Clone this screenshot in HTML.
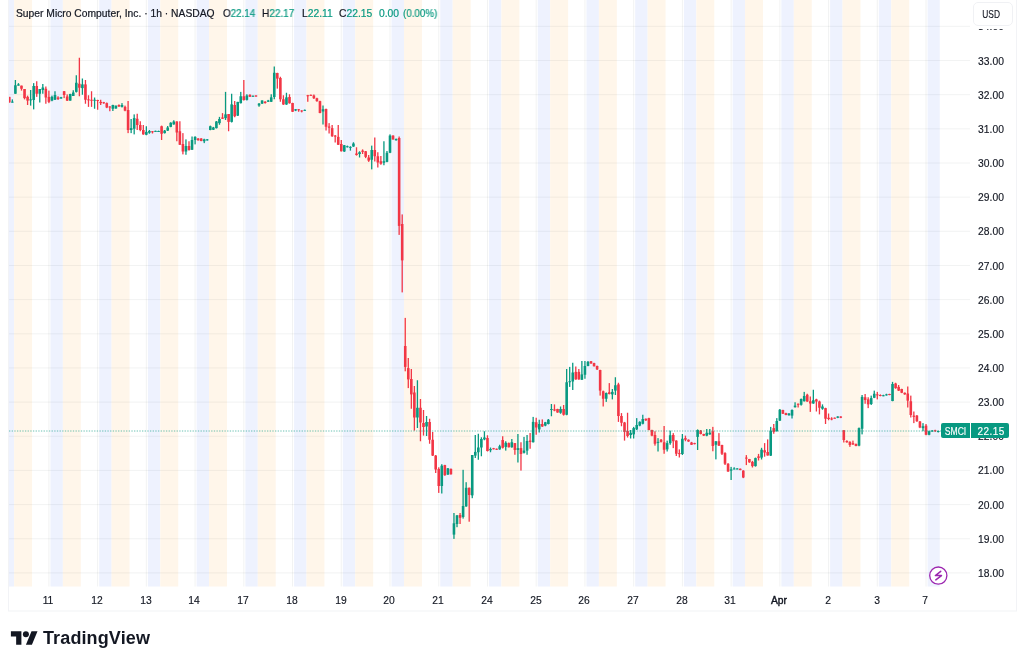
<!DOCTYPE html>
<html><head><meta charset="utf-8">
<style>
html,body{margin:0;padding:0;background:#fff;}
body{width:1024px;height:665px;position:relative;overflow:hidden;-webkit-font-smoothing:antialiased;font-family:"Liberation Sans",sans-serif;color:#131722;}
#chart{position:absolute;left:0;top:0;}
.pl{will-change:transform;position:absolute;left:967.7px;-webkit-text-stroke:0.15px #131722;width:46px;text-align:center;font-size:10.3px;line-height:14px;color:#131722;}
.tl{will-change:transform;-webkit-text-stroke:0.15px #131722;position:absolute;top:593.5px;width:40px;text-align:center;font-size:10.3px;line-height:14px;color:#131722;}
.tl.b{-webkit-text-stroke:0.4px #131722;}
.leg{will-change:transform;-webkit-text-stroke-width:0.2px;position:absolute;top:5.5px;font-size:10.3px;line-height:16px;white-space:nowrap;color:#131722;transform-origin:0 0;}
.leg .v{color:#089981;}
#usdbg{position:absolute;left:971px;top:0;width:44px;height:28.8px;background:#fff;}
#usd{will-change:transform;-webkit-text-stroke-width:0.15px;position:absolute;left:973px;top:2px;width:38px;height:22px;border:1px solid #F0F1F4;border-radius:5px;background:#fff;font-size:10.5px;line-height:22px;text-align:center;color:#131722;}
.tag{will-change:transform;-webkit-text-stroke-width:0.15px;position:absolute;top:423.3px;height:15.3px;background:#089981;color:#fff;font-size:10px;line-height:17.8px;text-align:center;}
#tv{will-change:transform;position:absolute;left:43px;top:627.8px;font-size:18px;font-weight:bold;line-height:20px;color:#131722;letter-spacing:0.12px;}
</style></head><body>
<svg id="chart" width="1024" height="665" viewBox="0 0 1024 665">
<rect x="0" y="0" width="1024" height="665" fill="#fff"/>
<rect x="9.00" y="0" width="5.12" height="586.5" fill="#EEF2FE"/>
<rect x="14.12" y="0" width="17.95" height="586.5" fill="#FFF6EA"/>
<rect x="50.45" y="0" width="12.40" height="586.5" fill="#EEF2FE"/>
<rect x="62.85" y="0" width="17.95" height="586.5" fill="#FFF6EA"/>
<rect x="99.18" y="0" width="12.40" height="586.5" fill="#EEF2FE"/>
<rect x="111.58" y="0" width="17.95" height="586.5" fill="#FFF6EA"/>
<rect x="147.91" y="0" width="12.40" height="586.5" fill="#EEF2FE"/>
<rect x="160.31" y="0" width="17.95" height="586.5" fill="#FFF6EA"/>
<rect x="196.64" y="0" width="12.40" height="586.5" fill="#EEF2FE"/>
<rect x="209.04" y="0" width="17.95" height="586.5" fill="#FFF6EA"/>
<rect x="245.37" y="0" width="12.40" height="586.5" fill="#EEF2FE"/>
<rect x="257.77" y="0" width="17.95" height="586.5" fill="#FFF6EA"/>
<rect x="294.10" y="0" width="12.40" height="586.5" fill="#EEF2FE"/>
<rect x="306.50" y="0" width="17.95" height="586.5" fill="#FFF6EA"/>
<rect x="342.83" y="0" width="12.40" height="586.5" fill="#EEF2FE"/>
<rect x="355.23" y="0" width="17.95" height="586.5" fill="#FFF6EA"/>
<rect x="391.56" y="0" width="12.40" height="586.5" fill="#EEF2FE"/>
<rect x="403.96" y="0" width="17.95" height="586.5" fill="#FFF6EA"/>
<rect x="440.29" y="0" width="12.40" height="586.5" fill="#EEF2FE"/>
<rect x="452.69" y="0" width="17.95" height="586.5" fill="#FFF6EA"/>
<rect x="489.02" y="0" width="12.40" height="586.5" fill="#EEF2FE"/>
<rect x="501.42" y="0" width="17.95" height="586.5" fill="#FFF6EA"/>
<rect x="537.75" y="0" width="12.40" height="586.5" fill="#EEF2FE"/>
<rect x="550.15" y="0" width="17.95" height="586.5" fill="#FFF6EA"/>
<rect x="586.48" y="0" width="12.40" height="586.5" fill="#EEF2FE"/>
<rect x="598.88" y="0" width="17.95" height="586.5" fill="#FFF6EA"/>
<rect x="635.21" y="0" width="12.40" height="586.5" fill="#EEF2FE"/>
<rect x="647.61" y="0" width="17.95" height="586.5" fill="#FFF6EA"/>
<rect x="683.93" y="0" width="12.40" height="586.5" fill="#EEF2FE"/>
<rect x="696.33" y="0" width="17.95" height="586.5" fill="#FFF6EA"/>
<rect x="732.66" y="0" width="12.40" height="586.5" fill="#EEF2FE"/>
<rect x="745.06" y="0" width="17.95" height="586.5" fill="#FFF6EA"/>
<rect x="781.39" y="0" width="12.40" height="586.5" fill="#EEF2FE"/>
<rect x="793.79" y="0" width="17.95" height="586.5" fill="#FFF6EA"/>
<rect x="830.12" y="0" width="12.40" height="586.5" fill="#EEF2FE"/>
<rect x="842.52" y="0" width="17.95" height="586.5" fill="#FFF6EA"/>
<rect x="878.85" y="0" width="12.40" height="586.5" fill="#EEF2FE"/>
<rect x="891.25" y="0" width="17.95" height="586.5" fill="#FFF6EA"/>
<rect x="927.58" y="0" width="12.16" height="586.5" fill="#EEF2FE"/>
<rect x="48.40" y="0" width="1" height="586.5" fill="rgba(42,46,57,0.06)"/>
<rect x="97.13" y="0" width="1" height="586.5" fill="rgba(42,46,57,0.06)"/>
<rect x="145.86" y="0" width="1" height="586.5" fill="rgba(42,46,57,0.06)"/>
<rect x="194.59" y="0" width="1" height="586.5" fill="rgba(42,46,57,0.06)"/>
<rect x="243.32" y="0" width="1" height="586.5" fill="rgba(42,46,57,0.06)"/>
<rect x="292.05" y="0" width="1" height="586.5" fill="rgba(42,46,57,0.06)"/>
<rect x="340.78" y="0" width="1" height="586.5" fill="rgba(42,46,57,0.06)"/>
<rect x="389.51" y="0" width="1" height="586.5" fill="rgba(42,46,57,0.06)"/>
<rect x="438.24" y="0" width="1" height="586.5" fill="rgba(42,46,57,0.06)"/>
<rect x="486.97" y="0" width="1" height="586.5" fill="rgba(42,46,57,0.06)"/>
<rect x="535.70" y="0" width="1" height="586.5" fill="rgba(42,46,57,0.06)"/>
<rect x="584.43" y="0" width="1" height="586.5" fill="rgba(42,46,57,0.06)"/>
<rect x="633.16" y="0" width="1" height="586.5" fill="rgba(42,46,57,0.06)"/>
<rect x="681.88" y="0" width="1" height="586.5" fill="rgba(42,46,57,0.06)"/>
<rect x="730.61" y="0" width="1" height="586.5" fill="rgba(42,46,57,0.06)"/>
<rect x="779.34" y="0" width="1" height="586.5" fill="rgba(42,46,57,0.06)"/>
<rect x="828.07" y="0" width="1" height="586.5" fill="rgba(42,46,57,0.06)"/>
<rect x="876.80" y="0" width="1" height="586.5" fill="rgba(42,46,57,0.06)"/>
<rect x="925.53" y="0" width="1" height="586.5" fill="rgba(42,46,57,0.06)"/>
<rect x="9" y="572.40" width="961" height="1" fill="rgba(42,46,57,0.06)"/>
<rect x="9" y="538.24" width="961" height="1" fill="rgba(42,46,57,0.06)"/>
<rect x="9" y="504.08" width="961" height="1" fill="rgba(42,46,57,0.06)"/>
<rect x="9" y="469.92" width="961" height="1" fill="rgba(42,46,57,0.06)"/>
<rect x="9" y="435.76" width="961" height="1" fill="rgba(42,46,57,0.06)"/>
<rect x="9" y="401.60" width="961" height="1" fill="rgba(42,46,57,0.06)"/>
<rect x="9" y="367.44" width="961" height="1" fill="rgba(42,46,57,0.06)"/>
<rect x="9" y="333.28" width="961" height="1" fill="rgba(42,46,57,0.06)"/>
<rect x="9" y="299.12" width="961" height="1" fill="rgba(42,46,57,0.06)"/>
<rect x="9" y="264.96" width="961" height="1" fill="rgba(42,46,57,0.06)"/>
<rect x="9" y="230.80" width="961" height="1" fill="rgba(42,46,57,0.06)"/>
<rect x="9" y="196.64" width="961" height="1" fill="rgba(42,46,57,0.06)"/>
<rect x="9" y="162.48" width="961" height="1" fill="rgba(42,46,57,0.06)"/>
<rect x="9" y="128.32" width="961" height="1" fill="rgba(42,46,57,0.06)"/>
<rect x="9" y="94.16" width="961" height="1" fill="rgba(42,46,57,0.06)"/>
<rect x="9" y="60.00" width="961" height="1" fill="rgba(42,46,57,0.06)"/>
<rect x="9" y="25.84" width="961" height="1" fill="rgba(42,46,57,0.06)"/>
<rect x="8.66" y="96.88" width="1.3" height="5.62" fill="#F23645"/>
<rect x="8.01" y="96.88" width="2.6" height="5.62" fill="#F23645"/>
<rect x="11.70" y="99.38" width="1.3" height="3.25" fill="#089981"/>
<rect x="11.05" y="101.62" width="2.6" height="1.00" fill="#089981"/>
<rect x="14.75" y="80.00" width="1.3" height="13.75" fill="#089981"/>
<rect x="14.10" y="85.25" width="2.6" height="8.50" fill="#089981"/>
<rect x="17.79" y="83.12" width="1.3" height="2.50" fill="#089981"/>
<rect x="17.14" y="84.38" width="2.6" height="1.25" fill="#089981"/>
<rect x="20.84" y="85.62" width="1.3" height="5.00" fill="#F23645"/>
<rect x="20.19" y="85.62" width="2.6" height="3.12" fill="#F23645"/>
<rect x="23.89" y="89.00" width="1.3" height="10.38" fill="#F23645"/>
<rect x="23.24" y="89.00" width="2.6" height="9.12" fill="#F23645"/>
<rect x="26.93" y="95.62" width="1.3" height="9.38" fill="#F23645"/>
<rect x="26.28" y="96.88" width="2.6" height="3.75" fill="#F23645"/>
<rect x="29.98" y="90.00" width="1.3" height="15.62" fill="#089981"/>
<rect x="29.33" y="99.38" width="2.6" height="1.00" fill="#089981"/>
<rect x="33.02" y="83.12" width="1.3" height="26.25" fill="#089981"/>
<rect x="32.37" y="86.00" width="2.6" height="14.00" fill="#089981"/>
<rect x="36.07" y="81.25" width="1.3" height="15.62" fill="#F23645"/>
<rect x="35.42" y="86.00" width="2.6" height="7.75" fill="#F23645"/>
<rect x="39.11" y="89.00" width="1.3" height="13.50" fill="#089981"/>
<rect x="38.46" y="89.00" width="2.6" height="4.75" fill="#089981"/>
<rect x="42.16" y="84.00" width="1.3" height="9.75" fill="#089981"/>
<rect x="41.51" y="87.50" width="2.6" height="2.50" fill="#089981"/>
<rect x="45.20" y="86.50" width="1.3" height="17.25" fill="#F23645"/>
<rect x="44.55" y="88.75" width="2.6" height="8.75" fill="#F23645"/>
<rect x="48.25" y="90.62" width="1.3" height="12.50" fill="#F23645"/>
<rect x="47.60" y="96.88" width="2.6" height="5.00" fill="#F23645"/>
<rect x="51.30" y="95.62" width="1.3" height="5.62" fill="#089981"/>
<rect x="50.65" y="96.88" width="2.6" height="3.75" fill="#089981"/>
<rect x="54.34" y="91.25" width="1.3" height="8.75" fill="#089981"/>
<rect x="53.69" y="95.00" width="2.6" height="4.75" fill="#089981"/>
<rect x="57.39" y="96.25" width="1.3" height="3.75" fill="#F23645"/>
<rect x="56.74" y="97.50" width="2.6" height="1.50" fill="#F23645"/>
<rect x="60.43" y="96.88" width="1.3" height="1.88" fill="#089981"/>
<rect x="59.78" y="97.25" width="2.6" height="1.25" fill="#089981"/>
<rect x="63.48" y="91.00" width="1.3" height="7.12" fill="#F23645"/>
<rect x="62.83" y="91.25" width="2.6" height="3.75" fill="#F23645"/>
<rect x="66.52" y="94.38" width="1.3" height="6.62" fill="#F23645"/>
<rect x="65.87" y="96.50" width="2.6" height="4.12" fill="#F23645"/>
<rect x="69.57" y="93.75" width="1.3" height="6.88" fill="#089981"/>
<rect x="68.92" y="94.00" width="2.6" height="6.62" fill="#089981"/>
<rect x="72.61" y="90.25" width="1.3" height="5.75" fill="#089981"/>
<rect x="71.96" y="92.50" width="2.6" height="3.50" fill="#089981"/>
<rect x="75.66" y="75.25" width="1.3" height="17.25" fill="#089981"/>
<rect x="75.01" y="82.75" width="2.6" height="9.12" fill="#089981"/>
<rect x="78.71" y="57.75" width="1.3" height="38.50" fill="#F23645"/>
<rect x="78.06" y="83.75" width="2.6" height="4.00" fill="#F23645"/>
<rect x="81.75" y="78.50" width="1.3" height="16.25" fill="#089981"/>
<rect x="81.10" y="84.38" width="2.6" height="3.75" fill="#089981"/>
<rect x="84.80" y="80.00" width="1.3" height="23.75" fill="#F23645"/>
<rect x="84.15" y="84.38" width="2.6" height="15.38" fill="#F23645"/>
<rect x="87.84" y="95.25" width="1.3" height="11.62" fill="#F23645"/>
<rect x="87.19" y="99.38" width="2.6" height="1.00" fill="#F23645"/>
<rect x="90.89" y="91.25" width="1.3" height="15.62" fill="#F23645"/>
<rect x="90.24" y="99.75" width="2.6" height="1.00" fill="#F23645"/>
<rect x="93.93" y="97.50" width="1.3" height="11.25" fill="#089981"/>
<rect x="93.28" y="99.75" width="2.6" height="1.00" fill="#089981"/>
<rect x="96.98" y="99.75" width="1.3" height="10.00" fill="#F23645"/>
<rect x="96.33" y="100.00" width="2.6" height="1.00" fill="#F23645"/>
<rect x="100.03" y="99.75" width="1.3" height="5.25" fill="#F23645"/>
<rect x="99.38" y="101.88" width="2.6" height="1.25" fill="#F23645"/>
<rect x="103.07" y="101.88" width="1.3" height="1.88" fill="#F23645"/>
<rect x="102.42" y="102.25" width="2.6" height="1.00" fill="#F23645"/>
<rect x="106.12" y="102.50" width="1.3" height="5.62" fill="#F23645"/>
<rect x="105.47" y="103.12" width="2.6" height="4.38" fill="#F23645"/>
<rect x="109.16" y="106.25" width="1.3" height="5.00" fill="#F23645"/>
<rect x="108.51" y="106.50" width="2.6" height="1.00" fill="#F23645"/>
<rect x="112.21" y="104.75" width="1.3" height="6.25" fill="#089981"/>
<rect x="111.56" y="105.00" width="2.6" height="3.75" fill="#089981"/>
<rect x="115.25" y="105.62" width="1.3" height="3.12" fill="#089981"/>
<rect x="114.60" y="105.62" width="2.6" height="2.88" fill="#089981"/>
<rect x="118.30" y="104.38" width="1.3" height="2.50" fill="#F23645"/>
<rect x="117.65" y="105.00" width="2.6" height="1.50" fill="#F23645"/>
<rect x="121.34" y="103.12" width="1.3" height="4.38" fill="#089981"/>
<rect x="120.69" y="105.00" width="2.6" height="1.88" fill="#089981"/>
<rect x="124.39" y="105.62" width="1.3" height="5.62" fill="#F23645"/>
<rect x="123.74" y="106.88" width="2.6" height="3.75" fill="#F23645"/>
<rect x="127.44" y="101.00" width="1.3" height="32.12" fill="#F23645"/>
<rect x="126.79" y="110.00" width="2.6" height="20.00" fill="#F23645"/>
<rect x="130.48" y="119.00" width="1.3" height="14.12" fill="#089981"/>
<rect x="129.83" y="128.12" width="2.6" height="1.88" fill="#089981"/>
<rect x="133.53" y="114.38" width="1.3" height="20.00" fill="#089981"/>
<rect x="132.88" y="118.12" width="2.6" height="10.62" fill="#089981"/>
<rect x="136.57" y="113.75" width="1.3" height="16.25" fill="#F23645"/>
<rect x="135.92" y="118.75" width="2.6" height="6.25" fill="#F23645"/>
<rect x="139.62" y="121.25" width="1.3" height="10.00" fill="#F23645"/>
<rect x="138.97" y="125.00" width="2.6" height="5.00" fill="#F23645"/>
<rect x="142.66" y="125.00" width="1.3" height="9.75" fill="#F23645"/>
<rect x="142.01" y="130.00" width="2.6" height="4.38" fill="#F23645"/>
<rect x="145.71" y="126.25" width="1.3" height="9.00" fill="#089981"/>
<rect x="145.06" y="131.88" width="2.6" height="2.88" fill="#089981"/>
<rect x="148.75" y="130.00" width="1.3" height="3.75" fill="#089981"/>
<rect x="148.10" y="131.00" width="2.6" height="1.75" fill="#089981"/>
<rect x="151.80" y="131.00" width="1.3" height="2.50" fill="#F23645"/>
<rect x="151.15" y="131.25" width="2.6" height="1.00" fill="#F23645"/>
<rect x="154.85" y="130.62" width="1.3" height="1.25" fill="#089981"/>
<rect x="154.20" y="130.88" width="2.6" height="1.00" fill="#089981"/>
<rect x="157.89" y="130.62" width="1.3" height="1.25" fill="#089981"/>
<rect x="157.24" y="131.00" width="2.6" height="1.00" fill="#089981"/>
<rect x="160.94" y="125.62" width="1.3" height="14.38" fill="#F23645"/>
<rect x="160.29" y="126.25" width="2.6" height="7.50" fill="#F23645"/>
<rect x="163.98" y="130.00" width="1.3" height="3.50" fill="#089981"/>
<rect x="163.33" y="130.62" width="2.6" height="2.50" fill="#089981"/>
<rect x="167.03" y="126.00" width="1.3" height="5.00" fill="#089981"/>
<rect x="166.38" y="127.50" width="2.6" height="3.12" fill="#089981"/>
<rect x="170.07" y="122.25" width="1.3" height="5.00" fill="#089981"/>
<rect x="169.42" y="122.75" width="2.6" height="4.12" fill="#089981"/>
<rect x="173.12" y="120.25" width="1.3" height="4.50" fill="#089981"/>
<rect x="172.47" y="121.50" width="2.6" height="2.88" fill="#089981"/>
<rect x="176.17" y="121.25" width="1.3" height="20.00" fill="#F23645"/>
<rect x="175.52" y="121.50" width="2.6" height="11.00" fill="#F23645"/>
<rect x="179.21" y="121.25" width="1.3" height="23.75" fill="#F23645"/>
<rect x="178.56" y="131.25" width="2.6" height="13.50" fill="#F23645"/>
<rect x="182.26" y="133.12" width="1.3" height="21.25" fill="#F23645"/>
<rect x="181.61" y="144.00" width="2.6" height="7.50" fill="#F23645"/>
<rect x="185.30" y="139.38" width="1.3" height="15.38" fill="#089981"/>
<rect x="184.65" y="146.00" width="2.6" height="5.50" fill="#089981"/>
<rect x="188.35" y="141.25" width="1.3" height="9.38" fill="#F23645"/>
<rect x="187.70" y="146.00" width="2.6" height="4.00" fill="#F23645"/>
<rect x="191.39" y="136.50" width="1.3" height="13.50" fill="#089981"/>
<rect x="190.74" y="140.00" width="2.6" height="9.75" fill="#089981"/>
<rect x="194.44" y="136.25" width="1.3" height="8.12" fill="#089981"/>
<rect x="193.79" y="136.88" width="2.6" height="3.12" fill="#089981"/>
<rect x="197.48" y="138.12" width="1.3" height="2.50" fill="#F23645"/>
<rect x="196.83" y="138.50" width="2.6" height="1.75" fill="#F23645"/>
<rect x="200.53" y="138.12" width="1.3" height="3.12" fill="#F23645"/>
<rect x="199.88" y="138.50" width="2.6" height="2.50" fill="#F23645"/>
<rect x="203.58" y="138.75" width="1.3" height="4.38" fill="#089981"/>
<rect x="202.93" y="139.38" width="2.6" height="1.88" fill="#089981"/>
<rect x="206.62" y="139.00" width="1.3" height="1.62" fill="#089981"/>
<rect x="205.97" y="139.38" width="2.6" height="1.00" fill="#089981"/>
<rect x="209.67" y="125.62" width="1.3" height="4.62" fill="#089981"/>
<rect x="209.02" y="126.25" width="2.6" height="3.75" fill="#089981"/>
<rect x="212.71" y="126.88" width="1.3" height="3.12" fill="#089981"/>
<rect x="212.06" y="127.50" width="2.6" height="2.25" fill="#089981"/>
<rect x="215.76" y="121.00" width="1.3" height="7.50" fill="#089981"/>
<rect x="215.11" y="121.50" width="2.6" height="6.62" fill="#089981"/>
<rect x="218.80" y="116.88" width="1.3" height="7.88" fill="#089981"/>
<rect x="218.15" y="119.00" width="2.6" height="4.12" fill="#089981"/>
<rect x="221.85" y="113.12" width="1.3" height="5.88" fill="#F23645"/>
<rect x="221.20" y="117.50" width="2.6" height="1.25" fill="#F23645"/>
<rect x="224.89" y="91.88" width="1.3" height="28.12" fill="#089981"/>
<rect x="224.24" y="114.38" width="2.6" height="3.75" fill="#089981"/>
<rect x="227.94" y="114.00" width="1.3" height="17.25" fill="#F23645"/>
<rect x="227.29" y="114.00" width="2.6" height="7.88" fill="#F23645"/>
<rect x="230.99" y="93.75" width="1.3" height="28.75" fill="#089981"/>
<rect x="230.34" y="104.38" width="2.6" height="17.50" fill="#089981"/>
<rect x="234.03" y="101.00" width="1.3" height="16.25" fill="#F23645"/>
<rect x="233.38" y="105.00" width="2.6" height="11.25" fill="#F23645"/>
<rect x="237.08" y="101.88" width="1.3" height="14.12" fill="#089981"/>
<rect x="236.43" y="101.88" width="2.6" height="13.75" fill="#089981"/>
<rect x="240.12" y="91.88" width="1.3" height="11.62" fill="#089981"/>
<rect x="239.47" y="96.25" width="2.6" height="6.88" fill="#089981"/>
<rect x="243.17" y="80.00" width="1.3" height="20.62" fill="#F23645"/>
<rect x="242.52" y="96.25" width="2.6" height="3.75" fill="#F23645"/>
<rect x="246.21" y="94.25" width="1.3" height="6.25" fill="#089981"/>
<rect x="245.56" y="95.50" width="2.6" height="4.38" fill="#089981"/>
<rect x="249.26" y="94.25" width="1.3" height="2.75" fill="#F23645"/>
<rect x="248.61" y="94.88" width="2.6" height="1.88" fill="#F23645"/>
<rect x="252.31" y="95.50" width="1.3" height="1.25" fill="#089981"/>
<rect x="251.66" y="95.75" width="2.6" height="1.00" fill="#089981"/>
<rect x="255.35" y="95.25" width="1.3" height="1.50" fill="#F23645"/>
<rect x="254.70" y="95.50" width="2.6" height="1.00" fill="#F23645"/>
<rect x="258.40" y="103.00" width="1.3" height="3.75" fill="#089981"/>
<rect x="257.75" y="103.62" width="2.6" height="1.88" fill="#089981"/>
<rect x="261.44" y="100.25" width="1.3" height="3.75" fill="#089981"/>
<rect x="260.79" y="100.50" width="2.6" height="3.12" fill="#089981"/>
<rect x="264.49" y="101.12" width="1.3" height="2.50" fill="#F23645"/>
<rect x="263.84" y="101.75" width="2.6" height="1.25" fill="#F23645"/>
<rect x="267.53" y="99.88" width="1.3" height="2.12" fill="#089981"/>
<rect x="266.88" y="100.50" width="2.6" height="1.25" fill="#089981"/>
<rect x="270.58" y="94.25" width="1.3" height="7.75" fill="#089981"/>
<rect x="269.93" y="97.38" width="2.6" height="4.38" fill="#089981"/>
<rect x="273.62" y="66.50" width="1.3" height="32.75" fill="#089981"/>
<rect x="272.97" y="72.75" width="2.6" height="24.25" fill="#089981"/>
<rect x="276.67" y="72.75" width="1.3" height="15.88" fill="#F23645"/>
<rect x="276.02" y="73.00" width="2.6" height="5.62" fill="#F23645"/>
<rect x="279.72" y="76.75" width="1.3" height="25.00" fill="#F23645"/>
<rect x="279.07" y="78.00" width="2.6" height="21.25" fill="#F23645"/>
<rect x="282.76" y="95.25" width="1.3" height="9.62" fill="#F23645"/>
<rect x="282.11" y="99.25" width="2.6" height="5.25" fill="#F23645"/>
<rect x="285.81" y="92.75" width="1.3" height="12.12" fill="#089981"/>
<rect x="285.16" y="97.38" width="2.6" height="7.12" fill="#089981"/>
<rect x="288.85" y="94.25" width="1.3" height="9.38" fill="#F23645"/>
<rect x="288.20" y="97.00" width="2.6" height="6.25" fill="#F23645"/>
<rect x="291.90" y="102.75" width="1.3" height="9.25" fill="#F23645"/>
<rect x="291.25" y="103.00" width="2.6" height="8.75" fill="#F23645"/>
<rect x="294.94" y="109.00" width="1.3" height="2.12" fill="#089981"/>
<rect x="294.29" y="109.25" width="2.6" height="1.25" fill="#089981"/>
<rect x="297.99" y="109.00" width="1.3" height="2.75" fill="#F23645"/>
<rect x="297.34" y="109.25" width="2.6" height="1.00" fill="#F23645"/>
<rect x="301.03" y="110.25" width="1.3" height="2.12" fill="#F23645"/>
<rect x="300.38" y="110.50" width="2.6" height="1.00" fill="#F23645"/>
<rect x="304.08" y="109.50" width="1.3" height="1.25" fill="#089981"/>
<rect x="303.43" y="109.88" width="2.6" height="1.00" fill="#089981"/>
<rect x="307.13" y="94.88" width="1.3" height="6.88" fill="#F23645"/>
<rect x="306.48" y="95.25" width="2.6" height="1.00" fill="#F23645"/>
<rect x="310.17" y="94.50" width="1.3" height="1.25" fill="#F23645"/>
<rect x="309.52" y="94.88" width="2.6" height="1.00" fill="#F23645"/>
<rect x="313.22" y="94.50" width="1.3" height="4.50" fill="#F23645"/>
<rect x="312.57" y="95.50" width="2.6" height="2.75" fill="#F23645"/>
<rect x="316.26" y="97.75" width="1.3" height="4.00" fill="#F23645"/>
<rect x="315.61" y="98.25" width="2.6" height="2.88" fill="#F23645"/>
<rect x="319.31" y="100.75" width="1.3" height="12.50" fill="#F23645"/>
<rect x="318.66" y="101.12" width="2.6" height="11.88" fill="#F23645"/>
<rect x="322.35" y="105.50" width="1.3" height="19.00" fill="#089981"/>
<rect x="321.70" y="109.25" width="2.6" height="2.25" fill="#089981"/>
<rect x="325.40" y="108.62" width="1.3" height="21.88" fill="#F23645"/>
<rect x="324.75" y="109.00" width="2.6" height="17.75" fill="#F23645"/>
<rect x="328.45" y="123.12" width="1.3" height="10.38" fill="#F23645"/>
<rect x="327.80" y="126.50" width="2.6" height="1.25" fill="#F23645"/>
<rect x="331.49" y="125.00" width="1.3" height="11.88" fill="#F23645"/>
<rect x="330.84" y="128.12" width="2.6" height="8.12" fill="#F23645"/>
<rect x="334.54" y="135.00" width="1.3" height="7.50" fill="#F23645"/>
<rect x="333.89" y="135.62" width="2.6" height="1.00" fill="#F23645"/>
<rect x="337.58" y="125.00" width="1.3" height="20.00" fill="#F23645"/>
<rect x="336.93" y="136.88" width="2.6" height="7.88" fill="#F23645"/>
<rect x="340.63" y="140.00" width="1.3" height="11.50" fill="#F23645"/>
<rect x="339.98" y="144.00" width="2.6" height="7.25" fill="#F23645"/>
<rect x="343.67" y="145.00" width="1.3" height="6.88" fill="#089981"/>
<rect x="343.02" y="145.25" width="2.6" height="6.25" fill="#089981"/>
<rect x="346.72" y="145.62" width="1.3" height="1.88" fill="#089981"/>
<rect x="346.07" y="146.25" width="2.6" height="1.00" fill="#089981"/>
<rect x="349.76" y="146.25" width="1.3" height="4.38" fill="#089981"/>
<rect x="349.11" y="146.88" width="2.6" height="1.00" fill="#089981"/>
<rect x="352.81" y="142.25" width="1.3" height="4.62" fill="#089981"/>
<rect x="352.16" y="143.50" width="2.6" height="3.00" fill="#089981"/>
<rect x="355.86" y="147.25" width="1.3" height="8.38" fill="#F23645"/>
<rect x="355.21" y="153.50" width="2.6" height="1.50" fill="#F23645"/>
<rect x="358.90" y="151.25" width="1.3" height="6.25" fill="#089981"/>
<rect x="358.25" y="152.25" width="2.6" height="1.75" fill="#089981"/>
<rect x="361.95" y="149.38" width="1.3" height="4.62" fill="#F23645"/>
<rect x="361.30" y="150.62" width="2.6" height="1.25" fill="#F23645"/>
<rect x="364.99" y="151.00" width="1.3" height="7.12" fill="#F23645"/>
<rect x="364.34" y="151.25" width="2.6" height="5.62" fill="#F23645"/>
<rect x="368.04" y="155.00" width="1.3" height="6.88" fill="#F23645"/>
<rect x="367.39" y="157.50" width="2.6" height="3.12" fill="#F23645"/>
<rect x="371.08" y="145.62" width="1.3" height="23.75" fill="#089981"/>
<rect x="370.43" y="150.00" width="2.6" height="9.75" fill="#089981"/>
<rect x="374.13" y="137.50" width="1.3" height="24.00" fill="#F23645"/>
<rect x="373.48" y="150.00" width="2.6" height="6.25" fill="#F23645"/>
<rect x="377.17" y="152.25" width="1.3" height="15.25" fill="#F23645"/>
<rect x="376.52" y="156.25" width="2.6" height="6.25" fill="#F23645"/>
<rect x="380.22" y="156.00" width="1.3" height="8.75" fill="#F23645"/>
<rect x="379.57" y="161.25" width="2.6" height="2.50" fill="#F23645"/>
<rect x="383.27" y="141.25" width="1.3" height="24.00" fill="#089981"/>
<rect x="382.62" y="161.25" width="2.6" height="1.50" fill="#089981"/>
<rect x="386.31" y="151.00" width="1.3" height="11.25" fill="#089981"/>
<rect x="385.66" y="152.75" width="2.6" height="9.12" fill="#089981"/>
<rect x="389.36" y="134.38" width="1.3" height="18.75" fill="#089981"/>
<rect x="388.71" y="135.62" width="2.6" height="17.12" fill="#089981"/>
<rect x="392.40" y="135.25" width="1.3" height="4.50" fill="#F23645"/>
<rect x="391.75" y="135.62" width="2.6" height="3.75" fill="#F23645"/>
<rect x="395.45" y="138.50" width="1.3" height="2.12" fill="#089981"/>
<rect x="394.80" y="139.00" width="2.6" height="1.25" fill="#089981"/>
<rect x="398.49" y="136.50" width="1.3" height="98.40" fill="#F23645"/>
<rect x="397.84" y="138.00" width="2.6" height="87.90" fill="#F23645"/>
<rect x="401.54" y="214.40" width="1.3" height="78.00" fill="#F23645"/>
<rect x="400.89" y="224.00" width="2.6" height="36.40" fill="#F23645"/>
<rect x="404.59" y="317.90" width="1.3" height="53.40" fill="#F23645"/>
<rect x="403.94" y="346.00" width="2.6" height="20.90" fill="#F23645"/>
<rect x="407.63" y="358.00" width="1.3" height="30.10" fill="#F23645"/>
<rect x="406.98" y="368.10" width="2.6" height="11.30" fill="#F23645"/>
<rect x="410.68" y="369.00" width="1.3" height="39.75" fill="#F23645"/>
<rect x="410.03" y="379.00" width="2.6" height="15.40" fill="#F23645"/>
<rect x="413.72" y="386.00" width="1.3" height="44.60" fill="#F23645"/>
<rect x="413.07" y="392.50" width="2.6" height="25.00" fill="#F23645"/>
<rect x="416.77" y="380.25" width="1.3" height="47.75" fill="#089981"/>
<rect x="416.12" y="407.75" width="2.6" height="9.75" fill="#089981"/>
<rect x="419.81" y="399.00" width="1.3" height="42.25" fill="#F23645"/>
<rect x="419.16" y="407.75" width="2.6" height="14.75" fill="#F23645"/>
<rect x="422.86" y="410.00" width="1.3" height="25.60" fill="#F23645"/>
<rect x="422.21" y="423.00" width="2.6" height="4.00" fill="#F23645"/>
<rect x="425.90" y="416.00" width="1.3" height="20.00" fill="#089981"/>
<rect x="425.25" y="422.00" width="2.6" height="4.50" fill="#089981"/>
<rect x="428.95" y="418.75" width="1.3" height="25.00" fill="#F23645"/>
<rect x="428.30" y="422.00" width="2.6" height="17.75" fill="#F23645"/>
<rect x="432.00" y="432.00" width="1.3" height="24.00" fill="#F23645"/>
<rect x="431.35" y="439.75" width="2.6" height="15.85" fill="#F23645"/>
<rect x="435.04" y="455.00" width="1.3" height="18.00" fill="#F23645"/>
<rect x="434.39" y="455.60" width="2.6" height="13.90" fill="#F23645"/>
<rect x="438.09" y="467.30" width="1.3" height="25.60" fill="#F23645"/>
<rect x="437.44" y="468.90" width="2.6" height="17.10" fill="#F23645"/>
<rect x="441.13" y="464.20" width="1.3" height="29.30" fill="#089981"/>
<rect x="440.48" y="465.70" width="2.6" height="20.30" fill="#089981"/>
<rect x="444.18" y="464.80" width="1.3" height="11.00" fill="#F23645"/>
<rect x="443.53" y="465.10" width="2.6" height="10.10" fill="#F23645"/>
<rect x="447.22" y="468.00" width="1.3" height="6.90" fill="#089981"/>
<rect x="446.57" y="468.30" width="2.6" height="6.30" fill="#089981"/>
<rect x="450.27" y="468.50" width="1.3" height="6.10" fill="#F23645"/>
<rect x="449.62" y="468.90" width="2.6" height="5.40" fill="#F23645"/>
<rect x="453.31" y="513.00" width="1.3" height="25.90" fill="#089981"/>
<rect x="452.66" y="523.30" width="2.6" height="11.30" fill="#089981"/>
<rect x="456.36" y="515.00" width="1.3" height="12.20" fill="#089981"/>
<rect x="455.71" y="515.40" width="2.6" height="8.60" fill="#089981"/>
<rect x="459.41" y="513.00" width="1.3" height="11.00" fill="#F23645"/>
<rect x="458.76" y="515.00" width="2.6" height="2.80" fill="#F23645"/>
<rect x="462.45" y="469.80" width="1.3" height="48.80" fill="#089981"/>
<rect x="461.80" y="506.00" width="2.6" height="11.00" fill="#089981"/>
<rect x="465.50" y="482.20" width="1.3" height="24.60" fill="#089981"/>
<rect x="464.85" y="487.80" width="2.6" height="18.60" fill="#089981"/>
<rect x="468.54" y="487.50" width="1.3" height="34.20" fill="#F23645"/>
<rect x="467.89" y="487.80" width="2.6" height="7.20" fill="#F23645"/>
<rect x="471.59" y="455.00" width="1.3" height="43.20" fill="#089981"/>
<rect x="470.94" y="455.00" width="2.6" height="40.40" fill="#089981"/>
<rect x="474.63" y="435.00" width="1.3" height="23.00" fill="#089981"/>
<rect x="473.98" y="451.90" width="2.6" height="3.70" fill="#089981"/>
<rect x="477.68" y="433.75" width="1.3" height="26.00" fill="#089981"/>
<rect x="477.03" y="447.50" width="2.6" height="4.75" fill="#089981"/>
<rect x="480.73" y="437.25" width="1.3" height="19.00" fill="#089981"/>
<rect x="480.08" y="439.00" width="2.6" height="8.50" fill="#089981"/>
<rect x="483.77" y="431.25" width="1.3" height="9.00" fill="#089981"/>
<rect x="483.12" y="437.50" width="2.6" height="1.90" fill="#089981"/>
<rect x="486.82" y="435.25" width="1.3" height="16.25" fill="#F23645"/>
<rect x="486.17" y="438.00" width="2.6" height="13.00" fill="#F23645"/>
<rect x="489.86" y="447.50" width="1.3" height="4.75" fill="#089981"/>
<rect x="489.21" y="449.00" width="2.6" height="1.25" fill="#089981"/>
<rect x="492.91" y="447.90" width="1.3" height="1.50" fill="#F23645"/>
<rect x="492.26" y="448.25" width="2.6" height="1.00" fill="#F23645"/>
<rect x="495.95" y="448.50" width="1.3" height="1.50" fill="#F23645"/>
<rect x="495.30" y="448.75" width="2.6" height="1.00" fill="#F23645"/>
<rect x="499.00" y="444.75" width="1.3" height="5.00" fill="#089981"/>
<rect x="498.35" y="446.25" width="2.6" height="3.15" fill="#089981"/>
<rect x="502.04" y="436.25" width="1.3" height="12.25" fill="#F23645"/>
<rect x="501.39" y="440.00" width="2.6" height="7.75" fill="#F23645"/>
<rect x="505.09" y="441.25" width="1.3" height="9.35" fill="#089981"/>
<rect x="504.44" y="442.75" width="2.6" height="4.15" fill="#089981"/>
<rect x="508.14" y="442.50" width="1.3" height="5.00" fill="#F23645"/>
<rect x="507.49" y="443.10" width="2.6" height="4.15" fill="#F23645"/>
<rect x="511.18" y="439.00" width="1.3" height="8.75" fill="#089981"/>
<rect x="510.53" y="442.25" width="2.6" height="5.00" fill="#089981"/>
<rect x="514.23" y="443.10" width="1.3" height="11.65" fill="#F23645"/>
<rect x="513.58" y="443.10" width="2.6" height="6.90" fill="#F23645"/>
<rect x="517.27" y="434.00" width="1.3" height="28.50" fill="#089981"/>
<rect x="516.62" y="448.10" width="2.6" height="1.90" fill="#089981"/>
<rect x="520.32" y="442.25" width="1.3" height="28.35" fill="#F23645"/>
<rect x="519.67" y="448.10" width="2.6" height="5.90" fill="#F23645"/>
<rect x="523.36" y="436.90" width="1.3" height="16.60" fill="#089981"/>
<rect x="522.71" y="450.60" width="2.6" height="2.15" fill="#089981"/>
<rect x="526.41" y="435.00" width="1.3" height="19.75" fill="#089981"/>
<rect x="525.76" y="441.00" width="2.6" height="9.60" fill="#089981"/>
<rect x="529.45" y="433.00" width="1.3" height="15.75" fill="#F23645"/>
<rect x="528.80" y="440.60" width="2.6" height="1.30" fill="#F23645"/>
<rect x="532.50" y="416.90" width="1.3" height="25.60" fill="#089981"/>
<rect x="531.85" y="421.90" width="2.6" height="20.35" fill="#089981"/>
<rect x="535.55" y="417.75" width="1.3" height="17.00" fill="#F23645"/>
<rect x="534.90" y="422.25" width="2.6" height="5.25" fill="#F23645"/>
<rect x="538.59" y="419.75" width="1.3" height="12.75" fill="#089981"/>
<rect x="537.94" y="424.00" width="2.6" height="5.40" fill="#089981"/>
<rect x="541.64" y="419.40" width="1.3" height="7.50" fill="#F23645"/>
<rect x="540.99" y="424.00" width="2.6" height="2.50" fill="#F23645"/>
<rect x="544.68" y="421.90" width="1.3" height="4.35" fill="#089981"/>
<rect x="544.03" y="422.25" width="2.6" height="3.35" fill="#089981"/>
<rect x="547.73" y="419.00" width="1.3" height="5.40" fill="#089981"/>
<rect x="547.08" y="419.75" width="2.6" height="4.25" fill="#089981"/>
<rect x="550.77" y="404.00" width="1.3" height="12.25" fill="#089981"/>
<rect x="550.12" y="409.00" width="2.6" height="1.00" fill="#089981"/>
<rect x="553.82" y="404.40" width="1.3" height="6.85" fill="#F23645"/>
<rect x="553.17" y="409.40" width="2.6" height="1.20" fill="#F23645"/>
<rect x="556.87" y="408.75" width="1.3" height="4.00" fill="#F23645"/>
<rect x="556.22" y="409.00" width="2.6" height="3.50" fill="#F23645"/>
<rect x="559.91" y="406.50" width="1.3" height="7.25" fill="#089981"/>
<rect x="559.26" y="409.00" width="2.6" height="3.75" fill="#089981"/>
<rect x="562.96" y="405.00" width="1.3" height="10.60" fill="#F23645"/>
<rect x="562.31" y="409.00" width="2.6" height="5.75" fill="#F23645"/>
<rect x="566.00" y="369.00" width="1.3" height="46.25" fill="#089981"/>
<rect x="565.35" y="382.25" width="2.6" height="32.50" fill="#089981"/>
<rect x="569.05" y="366.90" width="1.3" height="20.00" fill="#089981"/>
<rect x="568.40" y="381.25" width="2.6" height="1.00" fill="#089981"/>
<rect x="572.09" y="362.75" width="1.3" height="27.25" fill="#089981"/>
<rect x="571.44" y="372.50" width="2.6" height="9.00" fill="#089981"/>
<rect x="575.14" y="366.50" width="1.3" height="13.25" fill="#F23645"/>
<rect x="574.49" y="371.90" width="2.6" height="7.50" fill="#F23645"/>
<rect x="578.18" y="369.00" width="1.3" height="10.75" fill="#F23645"/>
<rect x="577.53" y="371.90" width="2.6" height="7.50" fill="#F23645"/>
<rect x="581.23" y="361.00" width="1.3" height="19.00" fill="#089981"/>
<rect x="580.58" y="374.40" width="2.6" height="5.35" fill="#089981"/>
<rect x="584.28" y="361.00" width="1.3" height="17.75" fill="#089981"/>
<rect x="583.63" y="366.00" width="2.6" height="8.75" fill="#089981"/>
<rect x="587.32" y="361.00" width="1.3" height="5.25" fill="#089981"/>
<rect x="586.67" y="361.90" width="2.6" height="4.10" fill="#089981"/>
<rect x="590.37" y="361.00" width="1.3" height="2.75" fill="#F23645"/>
<rect x="589.72" y="361.25" width="2.6" height="2.25" fill="#F23645"/>
<rect x="593.41" y="362.75" width="1.3" height="3.75" fill="#F23645"/>
<rect x="592.76" y="363.10" width="2.6" height="3.15" fill="#F23645"/>
<rect x="596.46" y="365.60" width="1.3" height="4.40" fill="#F23645"/>
<rect x="595.81" y="366.00" width="2.6" height="3.40" fill="#F23645"/>
<rect x="599.50" y="369.75" width="1.3" height="25.85" fill="#F23645"/>
<rect x="598.85" y="370.00" width="2.6" height="20.60" fill="#F23645"/>
<rect x="602.55" y="390.60" width="1.3" height="15.90" fill="#F23645"/>
<rect x="601.90" y="391.25" width="2.6" height="7.50" fill="#F23645"/>
<rect x="605.59" y="392.50" width="1.3" height="9.40" fill="#089981"/>
<rect x="604.94" y="393.00" width="2.6" height="5.75" fill="#089981"/>
<rect x="608.64" y="383.10" width="1.3" height="11.30" fill="#F23645"/>
<rect x="607.99" y="392.25" width="2.6" height="1.75" fill="#F23645"/>
<rect x="611.69" y="389.00" width="1.3" height="10.40" fill="#089981"/>
<rect x="611.04" y="391.90" width="2.6" height="2.50" fill="#089981"/>
<rect x="614.73" y="377.25" width="1.3" height="17.75" fill="#089981"/>
<rect x="614.08" y="385.25" width="2.6" height="5.35" fill="#089981"/>
<rect x="617.78" y="382.75" width="1.3" height="39.15" fill="#F23645"/>
<rect x="617.13" y="384.40" width="2.6" height="31.60" fill="#F23645"/>
<rect x="620.82" y="413.10" width="1.3" height="13.15" fill="#F23645"/>
<rect x="620.17" y="416.00" width="2.6" height="6.75" fill="#F23645"/>
<rect x="623.87" y="421.90" width="1.3" height="18.70" fill="#F23645"/>
<rect x="623.22" y="422.50" width="2.6" height="9.40" fill="#F23645"/>
<rect x="626.91" y="412.75" width="1.3" height="24.75" fill="#F23645"/>
<rect x="626.26" y="431.00" width="2.6" height="5.00" fill="#F23645"/>
<rect x="629.96" y="430.00" width="1.3" height="8.50" fill="#089981"/>
<rect x="629.31" y="432.75" width="2.6" height="2.25" fill="#089981"/>
<rect x="633.01" y="426.88" width="1.3" height="11.62" fill="#089981"/>
<rect x="632.36" y="428.12" width="2.6" height="6.25" fill="#089981"/>
<rect x="636.05" y="418.12" width="1.3" height="11.88" fill="#089981"/>
<rect x="635.40" y="425.00" width="2.6" height="4.38" fill="#089981"/>
<rect x="639.10" y="421.25" width="1.3" height="5.00" fill="#089981"/>
<rect x="638.45" y="421.88" width="2.6" height="3.75" fill="#089981"/>
<rect x="642.14" y="414.75" width="1.3" height="9.62" fill="#089981"/>
<rect x="641.49" y="419.00" width="2.6" height="4.75" fill="#089981"/>
<rect x="645.19" y="418.50" width="1.3" height="2.50" fill="#F23645"/>
<rect x="644.54" y="418.75" width="2.6" height="1.50" fill="#F23645"/>
<rect x="648.23" y="417.75" width="1.3" height="12.50" fill="#F23645"/>
<rect x="647.58" y="418.12" width="2.6" height="11.88" fill="#F23645"/>
<rect x="651.28" y="429.75" width="1.3" height="6.50" fill="#F23645"/>
<rect x="650.63" y="430.00" width="2.6" height="5.62" fill="#F23645"/>
<rect x="654.32" y="431.25" width="1.3" height="14.38" fill="#F23645"/>
<rect x="653.67" y="435.00" width="2.6" height="8.75" fill="#F23645"/>
<rect x="657.37" y="438.12" width="1.3" height="13.38" fill="#089981"/>
<rect x="656.72" y="441.88" width="2.6" height="1.00" fill="#089981"/>
<rect x="660.42" y="439.00" width="1.3" height="3.50" fill="#F23645"/>
<rect x="659.77" y="439.75" width="2.6" height="2.12" fill="#F23645"/>
<rect x="663.46" y="426.00" width="1.3" height="27.75" fill="#F23645"/>
<rect x="662.81" y="442.25" width="2.6" height="7.50" fill="#F23645"/>
<rect x="666.51" y="440.62" width="1.3" height="10.88" fill="#089981"/>
<rect x="665.86" y="443.12" width="2.6" height="6.25" fill="#089981"/>
<rect x="669.55" y="430.62" width="1.3" height="14.12" fill="#089981"/>
<rect x="668.90" y="435.25" width="2.6" height="7.88" fill="#089981"/>
<rect x="672.60" y="433.12" width="1.3" height="15.00" fill="#F23645"/>
<rect x="671.95" y="435.00" width="2.6" height="6.25" fill="#F23645"/>
<rect x="675.64" y="440.25" width="1.3" height="15.75" fill="#F23645"/>
<rect x="674.99" y="440.62" width="2.6" height="13.12" fill="#F23645"/>
<rect x="678.69" y="449.38" width="1.3" height="8.12" fill="#F23645"/>
<rect x="678.04" y="453.12" width="2.6" height="1.00" fill="#F23645"/>
<rect x="681.73" y="434.00" width="1.3" height="21.00" fill="#089981"/>
<rect x="681.08" y="438.75" width="2.6" height="15.25" fill="#089981"/>
<rect x="684.78" y="435.62" width="1.3" height="5.62" fill="#F23645"/>
<rect x="684.13" y="438.12" width="2.6" height="1.62" fill="#F23645"/>
<rect x="687.83" y="439.38" width="1.3" height="2.50" fill="#F23645"/>
<rect x="687.18" y="439.75" width="2.6" height="1.75" fill="#F23645"/>
<rect x="690.87" y="441.88" width="1.3" height="3.12" fill="#F23645"/>
<rect x="690.22" y="442.50" width="2.6" height="2.25" fill="#F23645"/>
<rect x="693.92" y="442.75" width="1.3" height="1.62" fill="#F23645"/>
<rect x="693.27" y="443.12" width="2.6" height="1.00" fill="#F23645"/>
<rect x="696.96" y="429.38" width="1.3" height="20.62" fill="#089981"/>
<rect x="696.31" y="430.00" width="2.6" height="6.88" fill="#089981"/>
<rect x="700.01" y="430.00" width="1.3" height="4.38" fill="#F23645"/>
<rect x="699.36" y="430.62" width="2.6" height="3.38" fill="#F23645"/>
<rect x="703.05" y="433.75" width="1.3" height="2.25" fill="#F23645"/>
<rect x="702.40" y="434.00" width="2.6" height="1.62" fill="#F23645"/>
<rect x="706.10" y="429.00" width="1.3" height="7.25" fill="#089981"/>
<rect x="705.45" y="432.75" width="2.6" height="2.88" fill="#089981"/>
<rect x="709.15" y="429.00" width="1.3" height="5.75" fill="#089981"/>
<rect x="708.50" y="432.75" width="2.6" height="1.62" fill="#089981"/>
<rect x="712.19" y="426.88" width="1.3" height="24.38" fill="#F23645"/>
<rect x="711.54" y="431.25" width="2.6" height="14.75" fill="#F23645"/>
<rect x="715.24" y="441.25" width="1.3" height="18.12" fill="#089981"/>
<rect x="714.59" y="441.25" width="2.6" height="3.50" fill="#089981"/>
<rect x="718.28" y="433.12" width="1.3" height="12.88" fill="#F23645"/>
<rect x="717.63" y="441.25" width="2.6" height="4.38" fill="#F23645"/>
<rect x="721.33" y="444.75" width="1.3" height="10.25" fill="#F23645"/>
<rect x="720.68" y="445.00" width="2.6" height="8.75" fill="#F23645"/>
<rect x="724.37" y="452.25" width="1.3" height="12.75" fill="#F23645"/>
<rect x="723.72" y="453.12" width="2.6" height="10.62" fill="#F23645"/>
<rect x="727.42" y="463.12" width="1.3" height="8.75" fill="#F23645"/>
<rect x="726.77" y="463.75" width="2.6" height="7.75" fill="#F23645"/>
<rect x="730.46" y="466.88" width="1.3" height="13.12" fill="#089981"/>
<rect x="729.81" y="469.38" width="2.6" height="1.25" fill="#089981"/>
<rect x="733.51" y="467.25" width="1.3" height="2.12" fill="#089981"/>
<rect x="732.86" y="468.50" width="2.6" height="1.00" fill="#089981"/>
<rect x="736.56" y="468.12" width="1.3" height="1.25" fill="#089981"/>
<rect x="735.91" y="468.50" width="2.6" height="1.00" fill="#089981"/>
<rect x="739.60" y="468.50" width="1.3" height="1.75" fill="#F23645"/>
<rect x="738.95" y="468.75" width="2.6" height="1.25" fill="#F23645"/>
<rect x="742.65" y="470.25" width="1.3" height="7.88" fill="#F23645"/>
<rect x="742.00" y="470.62" width="2.6" height="6.88" fill="#F23645"/>
<rect x="745.69" y="455.10" width="1.3" height="10.00" fill="#F23645"/>
<rect x="745.04" y="457.60" width="2.6" height="1.00" fill="#F23645"/>
<rect x="748.74" y="458.90" width="1.3" height="3.90" fill="#F23645"/>
<rect x="748.09" y="459.00" width="2.6" height="3.30" fill="#F23645"/>
<rect x="751.78" y="460.90" width="1.3" height="6.60" fill="#F23645"/>
<rect x="751.13" y="461.90" width="2.6" height="4.20" fill="#F23645"/>
<rect x="754.83" y="457.60" width="1.3" height="9.00" fill="#089981"/>
<rect x="754.18" y="458.10" width="2.6" height="8.00" fill="#089981"/>
<rect x="757.87" y="453.90" width="1.3" height="6.60" fill="#F23645"/>
<rect x="757.22" y="456.40" width="2.6" height="1.50" fill="#F23645"/>
<rect x="760.92" y="447.80" width="1.3" height="11.70" fill="#089981"/>
<rect x="760.27" y="449.70" width="2.6" height="7.90" fill="#089981"/>
<rect x="763.97" y="443.10" width="1.3" height="13.60" fill="#F23645"/>
<rect x="763.32" y="450.20" width="2.6" height="2.30" fill="#F23645"/>
<rect x="767.01" y="439.40" width="1.3" height="16.20" fill="#F23645"/>
<rect x="766.36" y="452.00" width="2.6" height="3.50" fill="#F23645"/>
<rect x="770.06" y="426.88" width="1.3" height="29.12" fill="#089981"/>
<rect x="769.41" y="430.62" width="2.6" height="25.00" fill="#089981"/>
<rect x="773.10" y="424.00" width="1.3" height="9.75" fill="#F23645"/>
<rect x="772.45" y="428.12" width="2.6" height="3.75" fill="#F23645"/>
<rect x="776.15" y="418.12" width="1.3" height="13.38" fill="#089981"/>
<rect x="775.50" y="421.00" width="2.6" height="10.25" fill="#089981"/>
<rect x="779.19" y="409.00" width="1.3" height="12.00" fill="#089981"/>
<rect x="778.54" y="409.75" width="2.6" height="10.88" fill="#089981"/>
<rect x="782.24" y="409.75" width="1.3" height="4.25" fill="#F23645"/>
<rect x="781.59" y="410.00" width="2.6" height="3.75" fill="#F23645"/>
<rect x="785.29" y="412.75" width="1.3" height="2.50" fill="#F23645"/>
<rect x="784.64" y="413.12" width="2.6" height="1.88" fill="#F23645"/>
<rect x="788.33" y="413.12" width="1.3" height="2.50" fill="#089981"/>
<rect x="787.68" y="413.50" width="2.6" height="1.75" fill="#089981"/>
<rect x="791.38" y="409.38" width="1.3" height="9.12" fill="#089981"/>
<rect x="790.73" y="410.00" width="2.6" height="5.62" fill="#089981"/>
<rect x="794.42" y="402.25" width="1.3" height="5.25" fill="#089981"/>
<rect x="793.77" y="405.62" width="2.6" height="1.62" fill="#089981"/>
<rect x="797.47" y="403.50" width="1.3" height="4.00" fill="#F23645"/>
<rect x="796.82" y="403.75" width="2.6" height="1.00" fill="#F23645"/>
<rect x="800.51" y="398.50" width="1.3" height="7.12" fill="#089981"/>
<rect x="799.86" y="399.00" width="2.6" height="5.75" fill="#089981"/>
<rect x="803.56" y="391.88" width="1.3" height="9.62" fill="#089981"/>
<rect x="802.91" y="396.00" width="2.6" height="5.25" fill="#089981"/>
<rect x="806.60" y="393.75" width="1.3" height="8.12" fill="#F23645"/>
<rect x="805.95" y="394.75" width="2.6" height="6.75" fill="#F23645"/>
<rect x="809.65" y="396.50" width="1.3" height="15.38" fill="#F23645"/>
<rect x="809.00" y="401.25" width="2.6" height="2.25" fill="#F23645"/>
<rect x="812.70" y="389.75" width="1.3" height="14.00" fill="#089981"/>
<rect x="812.05" y="400.25" width="2.6" height="3.25" fill="#089981"/>
<rect x="815.74" y="398.75" width="1.3" height="12.75" fill="#F23645"/>
<rect x="815.09" y="399.38" width="2.6" height="2.12" fill="#F23645"/>
<rect x="818.79" y="400.62" width="1.3" height="13.75" fill="#F23645"/>
<rect x="818.14" y="401.50" width="2.6" height="6.25" fill="#F23645"/>
<rect x="821.83" y="404.38" width="1.3" height="5.38" fill="#089981"/>
<rect x="821.18" y="406.50" width="2.6" height="2.25" fill="#089981"/>
<rect x="824.88" y="407.75" width="1.3" height="16.25" fill="#F23645"/>
<rect x="824.23" y="408.12" width="2.6" height="10.62" fill="#F23645"/>
<rect x="827.92" y="413.50" width="1.3" height="6.75" fill="#F23645"/>
<rect x="827.27" y="417.75" width="2.6" height="1.25" fill="#F23645"/>
<rect x="830.97" y="417.25" width="1.3" height="3.00" fill="#F23645"/>
<rect x="830.32" y="418.50" width="2.6" height="1.00" fill="#F23645"/>
<rect x="834.01" y="417.50" width="1.3" height="1.00" fill="#F23645"/>
<rect x="833.36" y="417.75" width="2.6" height="1.00" fill="#F23645"/>
<rect x="837.06" y="416.25" width="1.3" height="1.88" fill="#089981"/>
<rect x="836.41" y="416.50" width="2.6" height="1.25" fill="#089981"/>
<rect x="840.11" y="416.25" width="1.3" height="1.88" fill="#F23645"/>
<rect x="839.46" y="416.50" width="2.6" height="1.25" fill="#F23645"/>
<rect x="843.15" y="430.00" width="1.3" height="12.50" fill="#F23645"/>
<rect x="842.50" y="430.25" width="2.6" height="9.75" fill="#F23645"/>
<rect x="846.20" y="440.25" width="1.3" height="2.50" fill="#F23645"/>
<rect x="845.55" y="441.00" width="2.6" height="1.25" fill="#F23645"/>
<rect x="849.24" y="441.25" width="1.3" height="5.62" fill="#F23645"/>
<rect x="848.59" y="441.88" width="2.6" height="3.12" fill="#F23645"/>
<rect x="852.29" y="440.62" width="1.3" height="4.38" fill="#F23645"/>
<rect x="851.64" y="443.12" width="2.6" height="1.25" fill="#F23645"/>
<rect x="855.33" y="443.50" width="1.3" height="2.75" fill="#F23645"/>
<rect x="854.68" y="444.00" width="2.6" height="2.00" fill="#F23645"/>
<rect x="858.38" y="427.50" width="1.3" height="18.75" fill="#089981"/>
<rect x="857.73" y="428.12" width="2.6" height="17.50" fill="#089981"/>
<rect x="861.43" y="395.00" width="1.3" height="39.38" fill="#089981"/>
<rect x="860.78" y="396.88" width="2.6" height="31.88" fill="#089981"/>
<rect x="864.47" y="394.00" width="1.3" height="9.75" fill="#F23645"/>
<rect x="863.82" y="397.25" width="2.6" height="2.75" fill="#F23645"/>
<rect x="867.52" y="397.25" width="1.3" height="10.88" fill="#F23645"/>
<rect x="866.87" y="399.38" width="2.6" height="5.00" fill="#F23645"/>
<rect x="870.56" y="395.62" width="1.3" height="9.38" fill="#089981"/>
<rect x="869.91" y="398.12" width="2.6" height="5.88" fill="#089981"/>
<rect x="873.61" y="390.62" width="1.3" height="7.50" fill="#089981"/>
<rect x="872.96" y="393.75" width="2.6" height="4.00" fill="#089981"/>
<rect x="876.65" y="391.88" width="1.3" height="7.50" fill="#F23645"/>
<rect x="876.00" y="394.38" width="2.6" height="1.00" fill="#F23645"/>
<rect x="879.70" y="394.38" width="1.3" height="1.88" fill="#F23645"/>
<rect x="879.05" y="395.00" width="2.6" height="1.00" fill="#F23645"/>
<rect x="882.74" y="394.75" width="1.3" height="1.50" fill="#089981"/>
<rect x="882.09" y="395.25" width="2.6" height="1.00" fill="#089981"/>
<rect x="885.79" y="393.75" width="1.3" height="1.88" fill="#089981"/>
<rect x="885.14" y="394.38" width="2.6" height="1.00" fill="#089981"/>
<rect x="888.84" y="393.75" width="1.3" height="1.50" fill="#F23645"/>
<rect x="888.19" y="394.00" width="2.6" height="1.00" fill="#F23645"/>
<rect x="891.88" y="381.88" width="1.3" height="19.38" fill="#089981"/>
<rect x="891.23" y="384.00" width="2.6" height="17.00" fill="#089981"/>
<rect x="894.93" y="382.75" width="1.3" height="6.00" fill="#F23645"/>
<rect x="894.28" y="383.50" width="2.6" height="4.62" fill="#F23645"/>
<rect x="897.97" y="385.00" width="1.3" height="6.00" fill="#F23645"/>
<rect x="897.32" y="386.88" width="2.6" height="3.75" fill="#F23645"/>
<rect x="901.02" y="388.75" width="1.3" height="4.38" fill="#F23645"/>
<rect x="900.37" y="389.00" width="2.6" height="3.75" fill="#F23645"/>
<rect x="904.06" y="392.50" width="1.3" height="2.25" fill="#F23645"/>
<rect x="903.41" y="392.75" width="2.6" height="1.62" fill="#F23645"/>
<rect x="907.11" y="386.50" width="1.3" height="21.00" fill="#F23645"/>
<rect x="906.46" y="393.50" width="2.6" height="7.12" fill="#F23645"/>
<rect x="910.15" y="395.62" width="1.3" height="21.88" fill="#F23645"/>
<rect x="909.50" y="401.25" width="2.6" height="13.75" fill="#F23645"/>
<rect x="913.20" y="411.50" width="1.3" height="11.62" fill="#F23645"/>
<rect x="912.55" y="415.62" width="2.6" height="1.25" fill="#F23645"/>
<rect x="916.25" y="415.00" width="1.3" height="6.88" fill="#F23645"/>
<rect x="915.60" y="415.62" width="2.6" height="5.62" fill="#F23645"/>
<rect x="919.29" y="421.00" width="1.3" height="7.12" fill="#F23645"/>
<rect x="918.64" y="421.50" width="2.6" height="6.00" fill="#F23645"/>
<rect x="922.34" y="423.12" width="1.3" height="8.12" fill="#089981"/>
<rect x="921.69" y="426.25" width="2.6" height="1.88" fill="#089981"/>
<rect x="925.38" y="424.00" width="1.3" height="11.25" fill="#F23645"/>
<rect x="924.73" y="425.62" width="2.6" height="9.12" fill="#F23645"/>
<rect x="928.43" y="430.62" width="1.3" height="4.62" fill="#089981"/>
<rect x="927.78" y="431.25" width="2.6" height="3.50" fill="#089981"/>
<rect x="931.47" y="430.00" width="1.3" height="1.50" fill="#089981"/>
<rect x="930.82" y="430.62" width="2.6" height="1.00" fill="#089981"/>
<rect x="934.52" y="429.75" width="1.3" height="2.12" fill="#F23645"/>
<rect x="933.87" y="430.25" width="2.6" height="1.00" fill="#F23645"/>
<rect x="937.57" y="430.62" width="1.3" height="1.88" fill="#089981"/>
<rect x="936.92" y="431.00" width="2.6" height="1.00" fill="#089981"/>
<line x1="9" y1="431.0" x2="970" y2="431.0" stroke="#089981" stroke-width="1" stroke-dasharray="1.33 1.33" opacity="0.6"/>
<rect x="8" y="0" width="1" height="611" fill="#F2F3F6"/>
<rect x="1016" y="0" width="1" height="611" fill="#F2F3F6"/>
<rect x="8" y="610.5" width="1009" height="1" fill="#F2F3F6"/>
<g transform="translate(938.3,575.6)">
<circle cx="0" cy="0" r="8.6" fill="#fff" stroke="#9C27B0" stroke-width="1.3"/>
<path d="M2.4 -4.3 L-2.9 0 L3.2 0 L-2.5 4.3" fill="none" stroke="#9C27B0" stroke-width="1.5" stroke-linejoin="round" stroke-linecap="round"/>
</g>
<g transform="translate(10.9,628.2) scale(0.75)">
<path d="M14 22H7V11H0V4h14v18zM28 22h-8l7.5-18h8L28 22z" fill="#131722"/>
<circle cx="20" cy="8" r="4" fill="#131722"/>
</g>
</svg>
<div class="pl" style="top:566.9px">18.00</div><div class="pl" style="top:532.7px">19.00</div><div class="pl" style="top:498.6px">20.00</div><div class="pl" style="top:464.4px">21.00</div><div class="pl" style="top:430.3px">22.00</div><div class="pl" style="top:396.1px">23.00</div><div class="pl" style="top:361.9px">24.00</div><div class="pl" style="top:327.8px">25.00</div><div class="pl" style="top:293.6px">26.00</div><div class="pl" style="top:259.5px">27.00</div><div class="pl" style="top:225.3px">28.00</div><div class="pl" style="top:191.1px">29.00</div><div class="pl" style="top:157.0px">30.00</div><div class="pl" style="top:122.8px">31.00</div><div class="pl" style="top:88.7px">32.00</div><div class="pl" style="top:54.5px">33.00</div><div class="pl" style="top:20.3px">34.00</div>
<div class="tl" style="left:28.2px">11</div><div class="tl" style="left:76.9px">12</div><div class="tl" style="left:125.7px">13</div><div class="tl" style="left:174.4px">14</div><div class="tl" style="left:223.1px">17</div><div class="tl" style="left:271.8px">18</div><div class="tl" style="left:320.6px">19</div><div class="tl" style="left:369.3px">20</div><div class="tl" style="left:418.0px">21</div><div class="tl" style="left:466.8px">24</div><div class="tl" style="left:515.5px">25</div><div class="tl" style="left:564.2px">26</div><div class="tl" style="left:613.0px">27</div><div class="tl" style="left:661.7px">28</div><div class="tl" style="left:710.4px">31</div><div class="tl b" style="left:759.1px">Apr</div><div class="tl" style="left:807.9px">2</div><div class="tl" style="left:856.6px">3</div><div class="tl" style="left:905.3px">7</div>
<div id="usdbg"></div><div id="usd"><span style="display:inline-block;position:relative;left:-2px;transform:scaleX(0.8);">USD</span></div>
<div class="leg" style="left:16.00px;transform:scaleX(1.0000)">Super Micro Computer, Inc. · 1h · NASDAQ</div><div class="leg" style="left:223.00px;transform:scaleX(0.9530)">O<span class="v">22.14</span></div><div class="leg" style="left:261.75px;transform:scaleX(0.9740)">H<span class="v">22.17</span></div><div class="leg" style="left:301.80px;transform:scaleX(1.0000)">L<span class="v">22.11</span></div><div class="leg" style="left:339.40px;transform:scaleX(1.0000)">C<span class="v">22.15</span></div><div class="leg" style="left:379.00px;transform:scaleX(1.0000)"><span class="v">0.00</span></div><div class="leg" style="left:403.00px;transform:scaleX(0.9500)"><span class="v">(0.00%)</span></div>
<div class="tag" style="left:941px;width:29px;border-radius:2px 0 0 2px;"><span style="display:inline-block;transform:scaleX(0.86);">SMCI</span></div>
<div class="tag" style="left:971px;width:38.2px;border-radius:0 2px 2px 0;letter-spacing:0.45px;text-indent:2px;">22.15</div>
<div id="tv">TradingView</div>
</body></html>
